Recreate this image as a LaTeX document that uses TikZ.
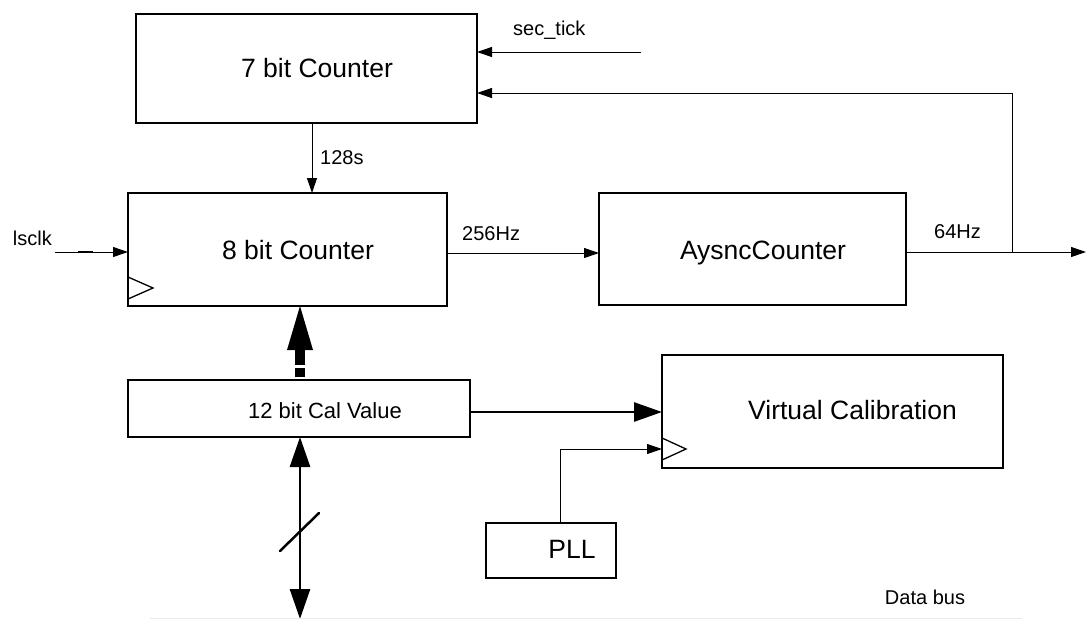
\documentclass[tikz,border=0pt]{standalone}
\usepackage{fontspec}
\setmainfont{Liberation Sans}
\usetikzlibrary{arrows.meta}
\begin{document}
\begin{tikzpicture}[x=1pt,y=-1pt,
  box/.style={draw, line width=1.3pt, rectangle, inner sep=0pt, outer sep=0pt},
  big/.style={font=\fontsize{26.5}{30}\selectfont, inner sep=0pt},
  mid/.style={font=\fontsize{22}{26}\selectfont, inner sep=0pt},
  small/.style={font=\fontsize{20}{24}\selectfont, inner sep=0pt},
  wire/.style={line width=1pt},
  tip/.style={-{Triangle[length=15pt,width=10pt]}},
  thick wire/.style={line width=2.7pt},
]
\useasboundingbox (0,0) rectangle (1086,619);

% boxes
\node[box, minimum width=341pt, minimum height=109pt] (c7) at (306.5,68.5) {};
\node[big, anchor=base] (t7) at (317,77) {7 bit Counter};
\node[box, minimum width=319pt, minimum height=113pt] (c8) at (287.5,249.5) {};
\node[big, anchor=base] (t8) at (298,259) {8 bit Counter};
\node[box, minimum width=307pt, minimum height=112pt] (ac) at (752.5,249) {};
\node[big, anchor=base] (tac) at (763,259) {AysncCounter};
\node[box, minimum width=342pt, minimum height=57pt] (cal) at (299,408.5) {};
\node[mid, anchor=base] (tcal) at (325,418) {12 bit Cal Value};
\node[box, minimum width=341pt, minimum height=113pt] (vc) at (832.5,411.5) {};
\node[big, anchor=base] (tvc) at (852.5,419) {Virtual Calibration};
\node[box, minimum width=130pt, minimum height=55pt] (pll) at (551,550.5) {};
\node[big, anchor=base] (tpll) at (572,558) {PLL};

% clock triangles
\draw[line width=1.3pt] (128,277) -- (153,288) -- (128,299);
\draw[line width=1.3pt] (662,438) -- (686,449) -- (662,460);

% sec_tick
\coordinate (secs) at (641,52);
\draw[wire, tip] (secs) -- (secs -| c7.east);
\node[small, anchor=base west] (tsec) at (513,35) {sec\_tick};

% 128s
\draw[wire, tip] (c7.south -| 312,0) -- (c8.north -| 312,0);
\node[small, anchor=base west] (t128) at (320,164) {128s};

% lsclk
\coordinate (lss) at (55,252);
\draw[wire, tip] (lss) -- (lss -| c8.west);
\draw[line width=2pt] (78,252) -- (93,252);
\node[small, anchor=base east] (tls) at (52,245) {lsclk};

% 256Hz
\coordinate (h256) at (0,253);
\draw[wire, tip] (h256 -| c8.east) -- (h256 -| ac.west);
\node[small, anchor=base west] (t256) at (462,240) {256Hz};

% 64Hz and feedback
\coordinate (oend) at (1086,252);
\coordinate (fb) at (1012,252);
\coordinate (fbt) at (1012,93);
\draw[wire, tip] (oend -| ac.east) -- (oend);
\draw[wire, tip] (fb) -- (fbt) -- (fbt -| c7.east);
\node[small, anchor=base west] (t64) at (934,238) {64Hz};

% thick up arrow cal -> 8 bit
\fill (287,350) -- (300,306) -- (313,350) -- cycle;
\fill (295,349) rectangle (305,365);
\fill (295,368) rectangle (305,377);
\fill (295,379) rectangle (305,381);

% cal -> virtual calibration
\coordinate (cv) at (0,412);
\draw[thick wire, -{Triangle[length=28pt,width=19pt]}] (cv -| cal.east) -- (cv -| vc.west);

% PLL -> VC clock
\coordinate (pc) at (560,449);
\draw[wire, tip] (pll.north -| pc) -- (pc) -- (pc -| vc.west);

% bidirectional data bus arrow
\coordinate (dbb) at (300,619);
\draw[thick wire, {Triangle[length=30pt,width=20pt]}-{Triangle[length=30pt,width=20pt]}] (cal.south -| dbb) -- (dbb);
\draw[line width=2.5pt, line cap=round] (280,551) -- (319,513);

% data bus line
\draw[line width=1pt, black!8] (150,618.5) -- (1022,618.5);
\node[small, anchor=base] (tdb) at (925,604) {Data bus};
\end{tikzpicture}
\end{document}
